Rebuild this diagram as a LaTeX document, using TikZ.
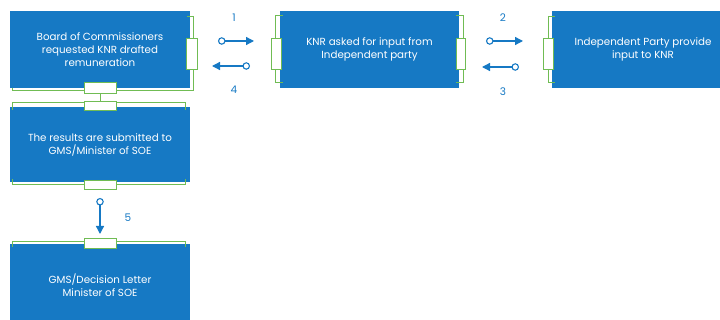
\documentclass[tikz,border=0pt]{standalone}
\usepackage{fontspec}
\setmainfont{Poppins}
\usetikzlibrary{arrows.meta,calc}
\definecolor{boxblue}{RGB}{22,121,196}
\definecolor{tabgreen}{RGB}{112,188,84}
\begin{document}
\begin{tikzpicture}[x=1pt,y=-1pt,
  blk/.style={fill=boxblue, draw=none, text=white, align=center,
    font=\fontsize{10.3}{13}\selectfont, inner sep=0pt},
  tab/.style={fill=white, draw=tabgreen, line width=0.9pt, inner sep=0pt},
  frame/.style={draw=tabgreen, line width=0.9pt},
  flow/.style={draw=boxblue, line width=1.3pt,
    {Circle[open,length=7.5pt,width=7.5pt,fill=white,line width=1.1pt]}-{Triangle[length=8pt,width=8pt]}},
  num/.style={text=boxblue, font=\fontsize{10.5}{12}\selectfont, inner sep=0pt}]
\useasboundingbox (0,0) rectangle (720,320);

% process boxes
\node[blk, minimum width=180, minimum height=77] (b1) at (100,49.5)
  {Board of Commissioners\\requested KNR drafted\\remuneration};
\node[blk, minimum width=179, minimum height=77] (b2) at (369.5,49.5)
  {KNR asked for input from\\Independent party};
\node[blk, minimum width=182, minimum height=77] (b3) at (643,49.5)
  {Independent Party provide\\input to KNR};
\node[blk, minimum width=180, minimum height=75] (b4) at (100,144.5)
  {The results are submitted to\\GMS/Minister of SOE};
\node[blk, minimum width=180, minimum height=82] (b5) at (100,285)
  {GMS/Decision Letter\\Minister of SOE};

% green frame lines around the boxes
\draw[frame] ($(b1.north east)+(-3,6)$) -- ++(6,0) |- ($(b1.south west)+(3,2)$) -- ++(0,-2);
\draw[frame] ($(b2.north west)+(3,5)$) -- ++(-7,0) |- ($(b2.south west)+(3,-6)$);
\draw[frame] ($(b2.north east)+(-3,5)$) -- ++(7,0) |- ($(b2.south east)+(-3,-6)$);
\draw[frame] ($(b3.north west)+(3,6)$) -- ++(-6,0) |- ($(b3.south west)+(3,-6)$);
\draw[frame] ($(b4.north west)+(3,3)$) -- ++(0,-7) -| ($(b4.north east)+(-5,3)$);
\draw[frame] ($(b4.south west)+(3,-3)$) -- ++(0,5) -| ($(b4.south east)+(-5,-3)$);
\draw[frame] ($(b5.north west)+(3,3)$) -- ++(0,-5) -| ($(b5.north east)+(-5,3)$);

% tabs
\node[tab, minimum width=11, minimum height=31] (t1r) at (191.5,53.5) {};
\node[tab, minimum width=32, minimum height=11] (t1b) at (100,87.5) {};
\node[tab, minimum width=10, minimum height=31] (t2l) at (276,53.5) {};
\node[tab, minimum width=9,  minimum height=31] (t2r) at (460.5,53.5) {};
\node[tab, minimum width=10, minimum height=31] (t3l) at (548,53.5) {};
\node[tab, minimum width=32, minimum height=9]  (t4t) at (100,105.5) {};
\node[tab, minimum width=32, minimum height=9]  (t4b) at (100,184.5) {};
\node[tab, minimum width=32, minimum height=10] (t5t) at (100,243) {};
\draw[frame] (t1b) -- (t4t);

% flow arrows
\coordinate (a1s) at (218,41);  \coordinate (a1e) at (254,41);
\coordinate (a4s) at (250,66);  \coordinate (a4e) at (212,66);
\coordinate (a2s) at (486,41);  \coordinate (a2e) at (523,41);
\coordinate (a3s) at (519,67);  \coordinate (a3e) at (482,67);
\coordinate (a5s) at (100,198); \coordinate (a5e) at (100,234);
\draw[flow] (a1s) -- (a1e);
\draw[flow] (a4s) -- (a4e);
\draw[flow] (a2s) -- (a2e);
\draw[flow] (a3s) -- (a3e);
\draw[flow] (a5s) -- (a5e);

% step numbers
\node[num] (n1) at (234,18) {1};
\node[num] (n4) at (234,90) {4};
\node[num] (n2) at (503,18) {2};
\node[num] (n3) at (503,92) {3};
\node[num] (n5) at (128,218) {5};
\end{tikzpicture}
\end{document}
